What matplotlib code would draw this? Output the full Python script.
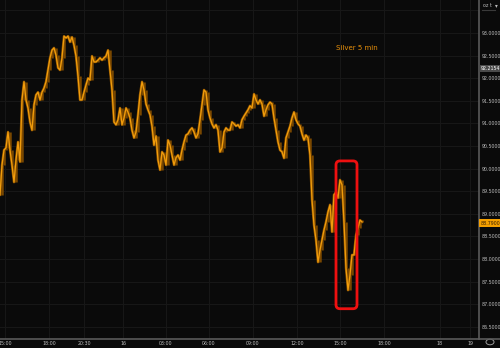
import matplotlib
matplotlib.use("Agg")
import matplotlib.pyplot as plt
from matplotlib.patches import FancyBboxPatch
from matplotlib import font_manager
import numpy as np

prices = [
    89.42, 90.08, 90.41, 90.46, 90.81, 90.41, 90.08, 89.70, 90.19, 90.59,
    90.15, 91.52, 91.92, 91.52, 91.34, 91.03, 90.85, 91.41, 91.63, 91.69,
    91.52, 91.69, 91.78, 91.92, 92.18, 92.45, 92.62, 92.67, 92.51, 92.23,
    92.18, 92.45, 92.93, 92.89, 92.93, 92.80, 92.91, 92.73, 92.49, 92.05,
    91.52, 91.52, 91.69, 91.85, 92.00, 91.96, 92.49, 92.36, 92.36, 92.40,
    92.45, 92.40, 92.45, 92.49, 92.62, 92.18, 91.74, 91.03, 90.97, 91.08,
    91.34, 90.97, 91.12, 91.34, 91.25, 91.12, 90.85, 90.68, 90.81, 91.19,
    91.63, 91.92, 91.74, 91.43, 91.30, 91.19, 90.94, 90.52, 90.72, 90.19,
    89.97, 90.37, 90.30, 90.08, 90.63, 90.52, 90.30, 90.08, 90.24, 90.30,
    90.19, 90.41, 90.59, 90.74, 90.77, 90.85, 90.90, 90.81, 90.68, 90.77,
    91.08, 91.41, 91.74, 91.69, 91.30, 91.12, 90.99, 90.90, 90.97, 90.85,
    90.37, 90.46, 90.81, 90.90, 90.85, 90.85, 91.03, 90.99, 90.94, 90.97,
    90.90, 91.08, 91.16, 91.23, 91.30, 91.39, 91.34, 91.65, 91.52, 91.43,
    91.52, 91.43, 91.16, 91.30, 91.41, 91.47, 91.43, 91.12, 90.85, 90.59,
    90.41, 90.37, 90.23, 90.68, 90.81, 90.94, 91.12, 91.25, 91.08, 90.99,
    90.94, 90.77, 90.63, 90.74, 90.68, 90.30, 89.31, 88.75, 88.42, 87.93,
    88.20, 88.42, 88.64, 88.82, 89.04, 89.20, 88.60, 89.42, 89.48, 89.35,
    89.75, 89.64, 88.82, 87.80, 87.31, 87.65, 88.09, 88.09, 88.53, 88.69,
    88.86, 88.82,
]

x_tick_pos = [2.5, 24.5, 42, 61.5, 83, 104.5, 126.5, 148.5, 170, 192, 220, 235]
x_tick_labels = ["15:00", "18:00", "20:30", "16", "03:00", "06:00", "09:00",
                 "12:00", "15:00", "18:00", "18", "19"]
y_ticks = [86.5, 87.0, 87.5, 88.0, 88.5, 89.0, 89.5, 90.0, 90.5, 91.0,
           91.5, 92.0, 92.5, 93.0, 93.5]
ref_price = 92.2154
last_price = 88.79
title_text = "Silver 5 min"
unit_text = "oz t"
# highlighted window (bar index range and price range)
hl_x = (168.0, 178.5)
hl_y = (86.90, 90.17)

names = {f.name for f in font_manager.fontManager.ttflist}
NARROW = ["Liberation Sans Narrow", "DejaVu Sans"] if "Liberation Sans Narrow" in names else ["DejaVu Sans"]
LBL_SIZE = 4.3 if "Liberation Sans Narrow" in names else 3.4

BG = "#0a0a0a"
fig = plt.figure(figsize=(5.0, 3.48), dpi=100, facecolor=BG)
ax = fig.add_axes([0.0, 1 - 339 / 348, 479 / 500, 339 / 348])
ax.set_facecolor(BG)

xs = np.arange(len(prices))
ax.set_xlim(0, 239.5)
ax.set_ylim(86.23, 93.73)

# grid
for yt in y_ticks:
    ax.axhline(yt, color="#171717", lw=0.8, zorder=0)
for xt in x_tick_pos:
    ax.axvline(xt, color="#171717", lw=0.8, zorder=0)

# bars: vertical segments between consecutive closes + line
ax.vlines(xs[1:], np.minimum(prices[:-1], prices[1:]), np.maximum(prices[:-1], prices[1:]),
          color="#7a4800", lw=1.8, zorder=2)
ax.plot(xs, prices, color="#8a5200", lw=1.8, zorder=2)
ax.plot(xs, prices, color="#f29d0c", lw=0.9, zorder=3)

ax.set_xticks(x_tick_pos)
ax.set_xticklabels(x_tick_labels, family=NARROW)
ax.set_yticks(y_ticks[:-1])
ax.set_yticklabels([f"{v:.4f}" for v in y_ticks[:-1]], family=NARROW)
ax.yaxis.tick_right()
ax.tick_params(axis="both", length=0, labelsize=LBL_SIZE, colors="#bdbdbd")
ax.tick_params(axis="x", pad=1.5)
ax.tick_params(axis="y", pad=2.0)
for s in ["top", "left"]:
    ax.spines[s].set_visible(False)
ax.spines["right"].set_color("#5a5a5a")
ax.spines["right"].set_linewidth(1.2)
ax.spines["bottom"].set_color("#5a5a5a")
ax.spines["bottom"].set_linewidth(1.2)

# bottom line across the label column
fig.add_artist(plt.Line2D([479 / 500, 1.0], [1 - 339 / 348] * 2, color="#5a5a5a", lw=1.2))

# price flags
ax.text(1.004, ref_price, f"{ref_price:.4f}", transform=ax.get_yaxis_transform(),
        fontsize=LBL_SIZE, color="#ffffff", va="center", ha="left", family=NARROW,
        bbox=dict(boxstyle="square,pad=0.3", fc="#4a4a4a", ec="none"))
ax.text(1.004, last_price, f"{last_price:.4f}", transform=ax.get_yaxis_transform(),
        fontsize=LBL_SIZE, color="#3a2000", va="center", ha="left", family=NARROW,
        bbox=dict(boxstyle="square,pad=0.3", fc="#f5a000", ec="none"))

# title
ax.text(0.745, 0.858, title_text, transform=ax.transAxes, fontsize=5.0,
        color="#e8900a", ha="center", va="center")

# unit label top right
fig.text(0.966, 0.985, unit_text, fontsize=LBL_SIZE, color="#bdbdbd", ha="left", va="center",
         family=NARROW)
fig.text(0.993, 0.985, "\u25be", fontsize=4, color="#bdbdbd", ha="center", va="center")
fig.add_artist(plt.Line2D([0.964, 0.99], [0.970, 0.970], color="#3a3a3a", lw=0.8))

# settings icon bottom right
fig.add_artist(plt.Circle((0.98, 1 - 342 / 348), 0.008, transform=fig.transFigure,
                          fill=False, ec="#9a9a9a", lw=0.7))

# highlight rectangle (computed from data coords to pixels)
fig.canvas.draw()
(x0, y0) = ax.transData.transform((hl_x[0], hl_y[0]))
(x1, y1) = ax.transData.transform((hl_x[1], hl_y[1]))
rect = FancyBboxPatch((x0, y0), x1 - x0, y1 - y0, boxstyle="round,pad=0,rounding_size=4",
                      transform=None, fill=False, ec="#ee1010", lw=2.0, zorder=5)
fig.add_artist(rect)

fig.savefig("out.png", dpi=100, facecolor=BG)
